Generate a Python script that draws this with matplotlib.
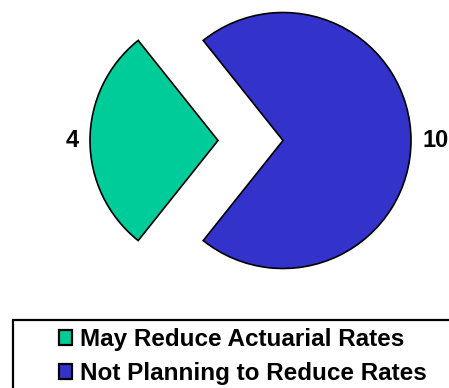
import matplotlib.pyplot as plt
from matplotlib.patches import Rectangle

labels = ["May Reduce Actuarial Rates", "Not Planning to Reduce Rates"]
values = [4, 10]
colors = ["#00CC99", "#3333CC"]

plt.rcParams["font.family"] = ["Liberation Sans", "DejaVu Sans"]
plt.rcParams["font.weight"] = "bold"

W, H = 449, 388
fig = plt.figure(figsize=(W / 100, H / 100), dpi=100)
ax = fig.add_axes([0, 0, 1, 1])

# pie in pixel coordinates (y measured from the bottom)
start = 180 - 360 * values[0] / sum(values) / 2
wedges, texts = ax.pie(
    values,
    colors=colors,
    labels=[str(v) for v in values],
    center=(250.5, H - 140.5),
    radius=128,
    explode=[32.5, 32.5],
    startangle=start,
    labeldistance=1.09,
    wedgeprops=dict(edgecolor="black", linewidth=1.2),
    textprops=dict(fontsize=17, fontweight="bold"),
)
texts[0].set_ha("right")
texts[1].set_ha("left")
ax.set_xlim(0, W)
ax.set_ylim(0, H)
ax.set_aspect("equal")
ax.axis("off")

# legend box, runs off the right and bottom edges
ax.add_patch(Rectangle((13, -60), 500, H - 320 + 60, fill=False,
                       edgecolor="black", linewidth=1.6, clip_on=False))
leg = ax.legend(
    wedges, labels,
    loc="upper left",
    bbox_to_anchor=(59, H - 328),
    bbox_transform=ax.transData,
    frameon=False,
    fontsize=17.5,
    handlelength=0.55,
    handleheight=0.55,
    handletextpad=0.3,
    labelspacing=0.45,
    borderpad=0,
    borderaxespad=0,
)
for t in leg.get_texts():
    t.set_fontweight("bold")
for h in leg.legend_handles:
    h.set_linewidth(1.6)

fig.savefig("out.png", dpi=100)
